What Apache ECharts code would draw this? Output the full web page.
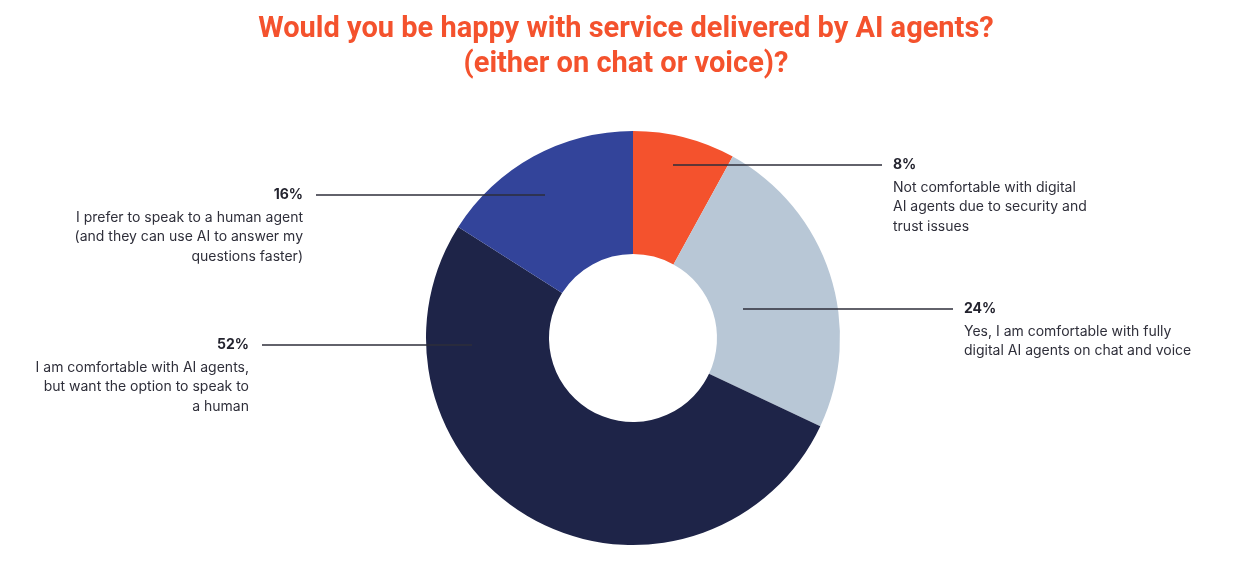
<!DOCTYPE html>
<html>
<head>
<meta charset="utf-8">
<script src="https://cdn.jsdelivr.net/npm/echarts@6/dist/echarts.min.js"></script>
<style>
  html, body { margin: 0; padding: 0; background: #fff; }
  #chart { width: 1249px; height: 565px; }
</style>
</head>
<body>
<div id="chart"></div>
<script>
// 数据
const titleText = 'Would you be happy with service delivered by AI agents?\n(either on chat or voice)?';
const answers = [
  'Not comfortable with digital\nAI agents due to security and\ntrust issues',
  'Yes, I am comfortable with fully\ndigital AI agents on chat and voice',
  'I am comfortable with AI agents,\nbut want the option to speak to\na human',
  'I prefer to speak to a human agent\n(and they can use AI to answer my\nquestions faster)'
];
const shares = [8, 24, 52, 16];
const sliceColors = ['#F4522D', '#B8C7D6', '#1E2448', '#33449A'];

// 标签位置 (线起点x, 线起点y, 线终点x, 方向)
const labelSpots = [
  [673, 165, 882, 'right'],
  [743, 309, 953, 'right'],
  [472, 345, 262, 'left'],
  [545, 195, 316, 'left']
];

const pieCenter = [633, 338];
const pieRadius = [84, 207];

const chart = echarts.init(document.getElementById('chart'));

chart.setOption({
  animation: false,
  backgroundColor: '#fff',
  color: sliceColors,
  title: {
    text: titleText,
    left: 621,
    top: 7,
    textAlign: 'center',
    textStyle: {
      fontFamily: 'Roboto',
      fontWeight: 'bold',
      fontSize: 29,
      lineHeight: 35,
      color: '#F4522D'
    }
  },
  series: [
    {
      // 环形图本体
      type: 'pie',
      center: pieCenter,
      radius: pieRadius,
      startAngle: 90,
      silent: true,
      z: 2,
      label: { show: false },
      labelLine: { show: false },
      data: shares.map((v, i) => ({ value: v, name: answers[i] }))
    },
    {
      // 透明覆盖层，标签线画在扇区上面
      type: 'pie',
      center: pieCenter,
      radius: pieRadius,
      startAngle: 90,
      silent: true,
      z: 5,
      avoidLabelOverlap: false,
      itemStyle: { color: 'rgba(0,0,0,0)' },
      data: shares.map((v, i) => ({ value: v, name: answers[i] })),
      label: {
        show: true,
        position: 'outside',
        formatter: p => '{p|' + p.value + '%}\n' +
          p.name.split('\n').map(s => '{d|' + s + '}').join('\n'),
        rich: {
          p: {
            fontFamily: 'Inter',
            fontWeight: 'bold',
            fontSize: 14,
            lineHeight: 26,
            color: '#23232e'
          },
          d: {
            fontFamily: 'Inter',
            fontSize: 14,
            lineHeight: 19.5,
            color: '#2f2f3a'
          }
        }
      },
      labelLine: {
        show: true,
        lineStyle: { color: '#2e2e3a', width: 1.3 }
      },
      labelLayout: function (params) {
        const s = labelSpots[params.dataIndex];
        const right = s[3] === 'right';
        return {
          x: right ? s[2] + 11 : s[2] - 13,
          y: s[1] - 13,
          align: right ? 'left' : 'right',
          verticalAlign: 'top',
          labelLinePoints: [[s[0], s[1]], [s[2], s[1]]]
        };
      }
    }
  ]
});
</script>
</body>
</html>
